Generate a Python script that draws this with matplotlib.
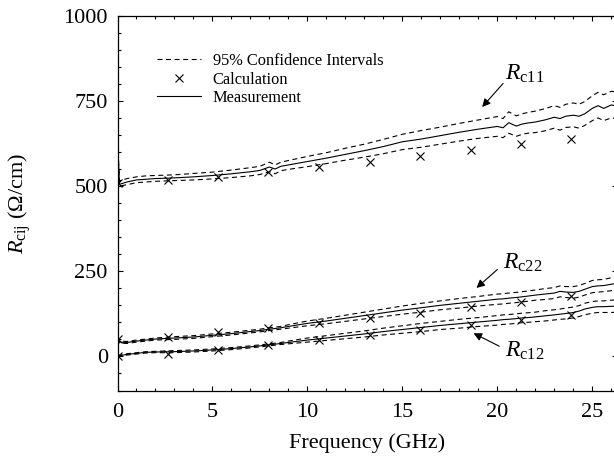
import matplotlib
matplotlib.use("Agg")
import matplotlib.pyplot as plt
from matplotlib.ticker import MultipleLocator

plt.rcParams['font.family'] = ['Liberation Serif', 'DejaVu Serif']
plt.rcParams['mathtext.fontset'] = 'custom'
plt.rcParams['mathtext.rm'] = 'Liberation Serif'
plt.rcParams['mathtext.it'] = 'Liberation Serif:italic'

# measured curves (GHz, ohm/cm)
freq = [0, 0.1, 0.5, 1, 1.5, 2, 3, 4, 5, 6, 7, 7.5, 8, 8.3, 8.6, 9, 10, 11, 12, 13, 14, 15, 16, 17, 18, 19, 20,
        20.3, 20.6, 21, 21.3, 21.6, 22, 22.5, 23, 23.3, 23.6, 24, 24.3, 24.6, 25, 25.3, 25.6, 26, 26.3]

rc11_meas = [645, 505, 512, 518, 520, 522, 524, 527, 531, 536, 542, 546, 556, 550, 558, 562, 572, 582, 593, 604, 616,
             630, 638, 648, 658, 667, 675, 671, 686, 676, 682, 685, 688, 694, 702, 698, 705, 708, 705, 712, 728, 736,
             728, 738, 735]
rc11_hi = [650, 515, 522, 527, 530, 531, 533, 537, 541, 547, 554, 558, 570, 562, 570, 575, 587, 598, 611, 623, 637,
           652, 663, 673, 684, 694, 704, 698, 718, 706, 712, 716, 720, 727, 736, 731, 740, 744, 740, 748, 765, 775,
           768, 778, 776]
rc11_lo = [620, 500, 504, 510, 512, 514, 516, 518, 521, 525, 530, 534, 542, 536, 545, 549, 557, 566, 576, 585, 595,
           607, 614, 623, 632, 640, 646, 642, 655, 646, 652, 655, 657, 662, 670, 664, 672, 674, 670, 678, 692, 700,
           692, 700, 698]

rc22_meas = [55, 42, 41, 45, 48, 51, 54, 57, 62, 67, 73, 76, 80, 82, 84, 88, 97, 104, 112, 120, 128, 136, 143, 150,
             156, 162, 168, 169, 171, 173, 175, 177, 180, 183, 186, 191, 189, 188, 191, 197, 205, 207, 208, 212, 214]
rc22_hi = [58, 45, 44, 48, 51, 54, 58, 61, 66, 71, 77, 80, 84, 86, 88, 93, 104, 112, 121, 130, 139, 148, 156, 163,
           170, 176, 183, 184, 186, 188, 190, 192, 195, 199, 202, 207, 205, 205, 208, 214, 223, 225, 226, 231, 233]
rc22_lo = [52, 39, 38, 42, 45, 48, 50, 53, 58, 63, 69, 72, 76, 78, 80, 83, 90, 96, 103, 110, 117, 124, 130, 137,
           142, 148, 153, 154, 156, 158, 160, 162, 165, 167, 170, 175, 173, 171, 174, 180, 187, 189, 190, 193, 195]

rc12_meas = [0, 2, 6, 9, 12, 13, 14, 16, 19, 23, 28, 31, 34, 36, 38, 41, 48, 54, 60, 66, 73, 79, 85, 91, 96, 101,
             106, 108, 109, 111, 113, 114, 116, 119, 122, 124, 126, 129, 133, 139, 144, 146, 146, 147, 148]
rc12_hi = [2, 4, 8, 11, 14, 15, 17, 19, 22, 26, 31, 34, 37, 39, 41, 45, 54, 61, 68, 75, 83, 90, 97, 103, 109, 114,
           120, 122, 123, 125, 127, 128, 130, 134, 137, 139, 142, 145, 149, 156, 161, 163, 163, 165, 166]
rc12_lo = [-2, 0, 4, 7, 10, 11, 11, 13, 16, 20, 25, 28, 31, 33, 35, 37, 42, 47, 52, 57, 63, 68, 73, 79, 83, 88,
           92, 94, 95, 97, 99, 100, 102, 104, 107, 109, 110, 113, 117, 122, 127, 129, 129, 129, 130]

# calculated points
calc_freq = [0, 2.65, 5.3, 7.95, 10.6, 13.3, 15.95, 18.6, 21.25, 23.9]
rc11_calc = [510, 518, 527, 541, 557, 572, 588, 605, 622, 637]
rc22_calc = [52, 58, 72, 84, 98, 113, 128, 144, 161, 176]
rc12_calc = [0, 8, 18, 33, 48, 63, 78, 92, 108, 122]

fig = plt.figure(figsize=(6.14, 4.68), dpi=100)
# axes runs a little past the right edge, like the cropped original
ax = fig.add_axes([117.5 / 614, 77.5 / 468, 499.5 / 614, 374.8 / 468])

lw = 0.8
dash = (4.5, 3.2)
for hi, lo, meas in [(rc11_hi, rc11_lo, rc11_meas), (rc22_hi, rc22_lo, rc22_meas), (rc12_hi, rc12_lo, rc12_meas)]:
    ax.plot(freq, hi, color='k', lw=lw, dashes=dash)
    ax.plot(freq, lo, color='k', lw=lw, dashes=dash)
    ax.plot(freq, meas, color='k', lw=lw)
for calc in [rc11_calc, rc22_calc, rc12_calc]:
    ax.plot(calc_freq, calc, ls='none', marker='x', color='k', ms=6, mew=0.8)

# legend handles
h1, = ax.plot([], [], color='k', lw=lw, dashes=dash)
h2, = ax.plot([], [], ls='none', marker='x', color='k', ms=6, mew=0.8)
h3, = ax.plot([], [], color='k', lw=lw)
ax.legend([h1, h2, h3], ['95% Confidence Intervals', 'Calculation', 'Measurement'],
          loc='upper left', bbox_to_anchor=(0.079, 0.90), frameon=False, fontsize=11.8,
          handlelength=2.7, handletextpad=0.7, borderpad=0, borderaxespad=0, labelspacing=0.15)

arrow = dict(arrowstyle='-|>', color='k', lw=0.8, mutation_scale=12, shrinkA=0, shrinkB=0)
ax.annotate('', xy=(19.2, 732), xytext=(20.3, 801), arrowprops=arrow)
ax.annotate('', xy=(18.9, 201), xytext=(20.0, 255), arrowprops=arrow)
ax.annotate('', xy=(18.75, 68), xytext=(20.1, 30), arrowprops=arrow)
ax.text(20.4, 811, r'$R_{\mathrm{c11}}$', fontsize=17, ha='left', va='baseline')
ax.text(20.3, 258, r'$R_{\mathrm{c22}}$', fontsize=17, ha='left', va='baseline')
ax.text(20.4, 0, r'$R_{\mathrm{c12}}$', fontsize=17, ha='left', va='baseline')

ax.set_xlim(0, 26.3)
ax.set_ylim(-100, 1000)
ax.set_xticks([0, 5, 10, 15, 20, 25])
ax.set_yticks([0, 250, 500, 750, 1000])
ax.xaxis.set_minor_locator(MultipleLocator(1))
ax.yaxis.set_minor_locator(MultipleLocator(50))
ax.tick_params(which='both', direction='in', top=True, right=True, width=0.8)
ax.tick_params(which='major', length=3.5, labelsize=16, pad=7)
ax.tick_params(which='minor', length=2)
ax.tick_params(axis='x', which='major', pad=9)
for s in ax.spines.values():
    s.set_linewidth(0.9)

ax.set_xlabel('Frequency (GHz)', fontsize=16, va='center')
ax.xaxis.set_label_coords(0.5, -0.14)
ax.set_ylabel(r'$R_{\mathrm{cij}}$ ($\Omega$/cm)', fontsize=16, va='center')
ax.yaxis.set_label_coords(-0.195, 0.5)

fig.savefig('out.png', dpi=100)
